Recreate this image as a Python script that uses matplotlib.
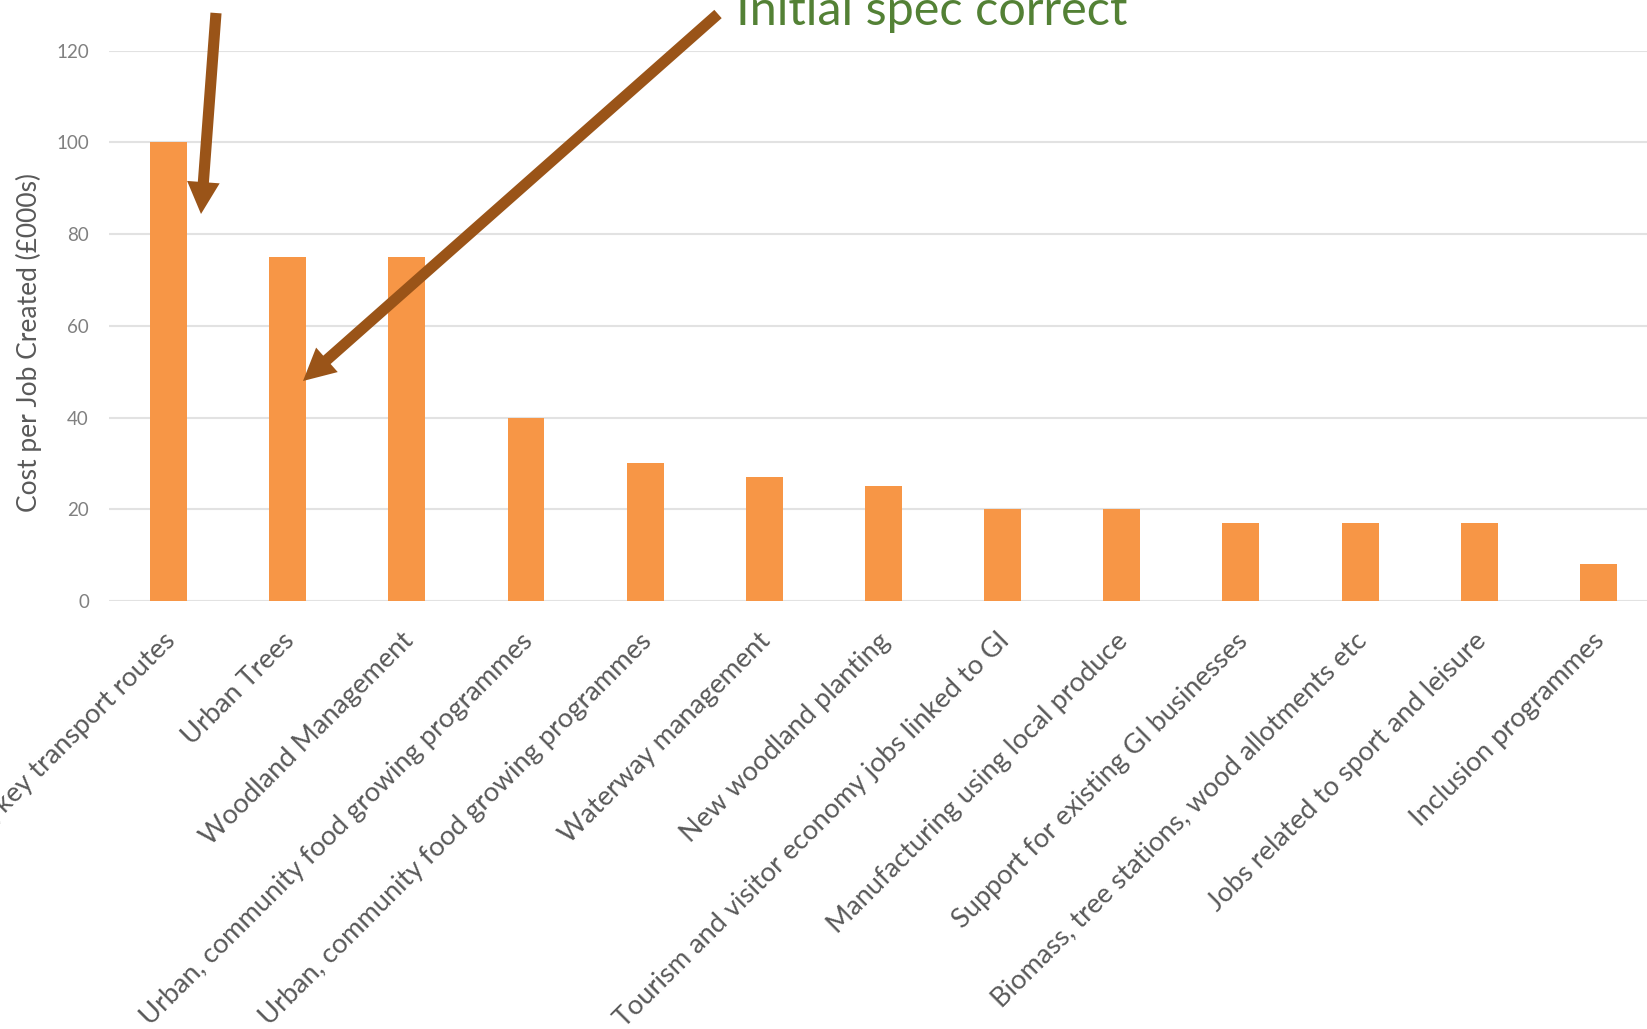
import matplotlib
matplotlib.use("Agg")
import matplotlib.pyplot as plt
from matplotlib.patches import FancyArrowPatch

plt.rcParams['font.family'] = ['Lato', 'DejaVu Sans']

categories = [
    "Trees along key transport routes",
    "Urban Trees",
    "Woodland Management",
    "Urban, community food growing programmes",
    "Urban, community food growing programmes",
    "Waterway management",
    "New woodland planting",
    "Tourism and visitor economy jobs linked to GI",
    "Manufacturing using local produce",
    "Support for existing GI businesses",
    "Biomass, tree stations, wood allotments etc",
    "Jobs related to sport and leisure",
    "Inclusion programmes",
]
values = [100, 75, 75, 40, 30, 27, 25, 20, 20, 17, 17, 17, 8]
yticks = [0, 20, 40, 60, 80, 100, 120]
ylabel = "Cost per Job Created (£000s)"
note_text = "Initial spec correct"

W, H = 1647, 1029
fig = plt.figure(figsize=(W / 100, H / 100), dpi=100)
fig.patch.set_facecolor('white')

left_px, bottom_px, top_px = 109, 601, 50.7
cat_w = 119.15
n = len(categories)
ax = fig.add_axes([left_px / W, 1 - bottom_px / H, n * cat_w / W, (bottom_px - top_px) / H])

x = list(range(n))
ax.bar(x, values, width=0.31, color='#F79646', zorder=2)
ax.set_xlim(-0.5, n - 0.5)
ax.set_ylim(0, 120)
ax.set_yticks(yticks)
ax.set_yticklabels([str(v) for v in yticks])
ax.yaxis.grid(True, color='#e2e2e2', linewidth=1.5, zorder=0)
ax.set_axisbelow(True)
for s in ax.spines.values():
    s.set_visible(False)
ax.tick_params(axis='y', length=0, pad=14.4, labelsize=13.5, labelcolor='#808080')
ax.set_xticks([])

for xi, lab in zip(x, categories):
    ax.annotate(lab, xy=(xi, 0), xycoords='data', xytext=(-4.5, -19.5),
                textcoords='offset points', rotation=45, ha='right', va='top',
                rotation_mode='anchor', fontsize=19.6, color='#595959',
                annotation_clip=False)

fig.text(29 / W, 1 - 342 / H, ylabel, rotation=90, ha='center', va='center',
         fontsize=19, color='#595959')

fig.text(736 / W, 1 - 25 / H, note_text, ha='left', va='baseline',
         fontsize=35, color='#538135')

arrow_color = '#9a5418'
def px(xi, yi):
    return (xi, H - yi)

for (tx, ty), (hx, hy) in [((216, 13), (201, 214)), ((718, 14), (303, 381))]:
    arr = FancyArrowPatch(px(tx, ty), px(hx, hy), transform=None,
                          arrowstyle="simple,head_length=23,head_width=23.5,tail_width=8",
                          mutation_scale=1, shrinkA=0, shrinkB=0,
                          color=arrow_color, linewidth=0, zorder=5)
    fig.patches.append(arr)

fig.savefig("out.png", dpi=100)
